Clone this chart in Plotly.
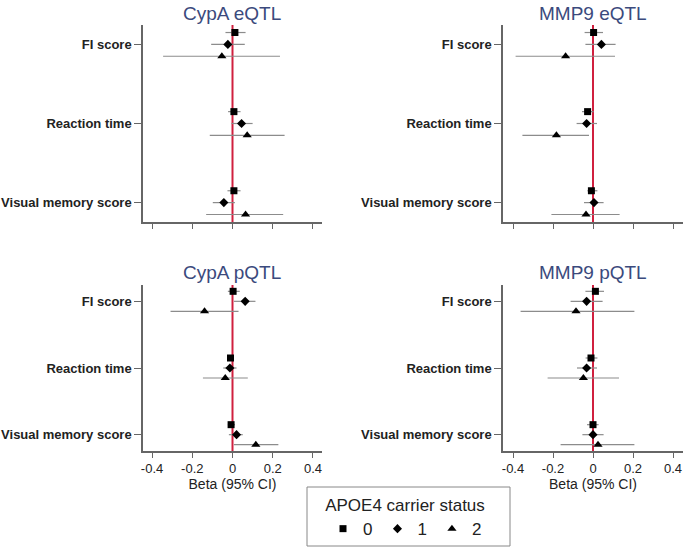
import plotly.graph_objects as go

# ---- data ----
categories = ["FI score", "Reaction time", "Visual memory score"]
status_labels = ["0", "1", "2"]
panel_titles = ["CypA eQTL", "MMP9 eQTL", "CypA pQTL", "MMP9 pQTL"]
x_ticks = [-0.4, -0.2, 0, 0.2, 0.4]
x_ticklabels = ["-0.4", "-0.2", "0", "0.2", "0.4"]

# rows: APOE4 carrier status 0,1,2 ; columns: categories
cypa_eqtl_beta = [[0.012, 0.007, 0.007], [-0.023, 0.045, -0.043], [-0.053, 0.073, 0.065]]
cypa_eqtl_lo = [[-0.035, -0.022, -0.025], [-0.106, -0.005, -0.098], [-0.345, -0.113, -0.131]]
cypa_eqtl_hi = [[0.065, 0.040, 0.040], [0.061, 0.100, 0.012], [0.236, 0.259, 0.252]]

mmp9_eqtl_beta = [[0.003, -0.027, -0.008], [0.042, -0.032, 0.005], [-0.137, -0.183, -0.035]]
mmp9_eqtl_lo = [[-0.042, -0.055, -0.028], [-0.038, -0.082, -0.045], [-0.387, -0.353, -0.208]]
mmp9_eqtl_hi = [[0.050, 0.003, 0.022], [0.113, 0.020, 0.053], [0.110, -0.020, 0.133]]

cypa_pqtl_beta = [[0.003, -0.010, -0.007], [0.063, -0.013, 0.020], [-0.139, -0.036, 0.116]]
cypa_pqtl_lo = [[-0.023, -0.026, -0.023], [0.007, -0.046, -0.018], [-0.308, -0.147, 0.007]]
cypa_pqtl_hi = [[0.036, 0.007, 0.012], [0.114, 0.020, 0.051], [0.030, 0.076, 0.228]]

mmp9_pqtl_beta = [[0.012, -0.010, 0.000], [-0.032, -0.032, 0.000], [-0.085, -0.048, 0.025]]
mmp9_pqtl_lo = [[-0.038, -0.037, -0.030], [-0.112, -0.080, -0.053], [-0.362, -0.227, -0.162]]
mmp9_pqtl_hi = [[0.055, 0.022, 0.028], [0.048, 0.020, 0.053], [0.207, 0.130, 0.207]]

panels = [
    (cypa_eqtl_beta, cypa_eqtl_lo, cypa_eqtl_hi),
    (mmp9_eqtl_beta, mmp9_eqtl_lo, mmp9_eqtl_hi),
    (cypa_pqtl_beta, cypa_pqtl_lo, cypa_pqtl_hi),
    (mmp9_pqtl_beta, mmp9_pqtl_lo, mmp9_pqtl_hi),
]

# ---- layout / style ----
W, H = 685, 551


def px(sx):
    return sx / W


def py(sy):
    return 1 - sy / H


cat_pos = [3, 2, 1]
offsets = [0.15, 0.0, -0.15]
symbols = ["square", "diamond", "triangle-up"]
sizes = [7, 7, 8]
FONT = "Liberation Sans, Arial, sans-serif"

# panel pixel boxes on screen: (left, right, top, bottom)
boxes = [(143, 322, 25, 222), (503, 683, 25, 222), (143, 322, 285, 451), (503, 683, 285, 451)]
xranges = [[-0.445, 0.445], [-0.45, 0.45], [-0.445, 0.445], [-0.45, 0.45]]

fig = go.Figure()
layout = dict(
    width=W, height=H,
    margin=dict(l=0, r=0, t=0, b=0),
    paper_bgcolor="white", plot_bgcolor="white",
    font=dict(family=FONT, color="#222"),
    showlegend=True,
    shapes=[], annotations=[],
)

for p, (beta, lo, hi) in enumerate(panels):
    ax = "" if p == 0 else str(p + 1)
    xa, ya = "x" + ax, "y" + ax
    for g in range(3):
        ys = [cat_pos[c] + offsets[g] for c in range(3)]
        fig.add_trace(go.Scatter(
            x=beta[g], y=ys, xaxis=xa, yaxis=ya, mode="markers",
            name=status_labels[g], legendgroup=status_labels[g], showlegend=(p == 0),
            marker=dict(symbol=symbols[g], size=sizes[g], color="black"),
            error_x=dict(type="data", symmetric=False,
                         array=[hi[g][c] - beta[g][c] for c in range(3)],
                         arrayminus=[beta[g][c] - lo[g][c] for c in range(3)],
                         color="#8c8c8c", thickness=1.2, width=0),
            cliponaxis=False,
        ))
    l, r, t, b = boxes[p]
    bottom_row = p >= 2
    layout["xaxis" + ax] = dict(
        domain=[px(l), px(r)], anchor=ya, range=xranges[p],
        tickvals=x_ticks, ticktext=x_ticklabels, showticklabels=bottom_row,
        ticks="outside", ticklen=5, tickwidth=1, tickcolor="#666",
        showline=True, linecolor="#666", linewidth=1.5, showgrid=False, zeroline=False,
        tickfont=dict(size=13, color="#222"), automargin=False,
        title=dict(text="Beta (95% CI)" if bottom_row else "", font=dict(size=14, color="#222"), standoff=0),
    )
    layout["yaxis" + ax] = dict(
        domain=[py(b), py(t)], anchor=xa, range=[0.755, 3.245],
        tickvals=cat_pos, ticktext=categories,
        ticks="outside", ticklen=7, tickwidth=1, tickcolor="#666",
        showline=True, linecolor="#666", linewidth=1.5, showgrid=False, zeroline=False,
        tickfont=dict(size=13, color="#222", weight="bold"), automargin=False,
    )
    layout["shapes"].append(dict(
        type="line", xref=xa, yref=ya + " domain", x0=0, x1=0, y0=0, y1=1,
        line=dict(color="#d0203f", width=2), layer="below",
    ))
    layout["annotations"].append(dict(
        text=panel_titles[p], xref="paper", yref="paper",
        x=px((l + r) / 2), y=py(13 if p < 2 else 272),
        xanchor="center", yanchor="middle", showarrow=False,
        font=dict(size=19, color="#3b4a7d", family=FONT),
    ))

# legend frame
layout["shapes"].append(dict(
    type="rect", xref="paper", yref="paper",
    x0=px(307), x1=px(510), y0=py(546), y1=py(487),
    line=dict(color="#888", width=1), fillcolor="rgba(0,0,0,0)",
))
layout["legend"] = dict(
    orientation="h", x=px(405), xanchor="center", y=py(489), yanchor="top",
    borderwidth=0, bgcolor="rgba(0,0,0,0)",
    font=dict(size=17, color="#222"),
    title=dict(text="APOE4 carrier status", side="top center", font=dict(size=17, color="#222")),
)

fig.update_layout(**layout)
fig.write_html("out.html", config={"displayModeBar": False},
               post_script="document.body.style.margin='0';")
